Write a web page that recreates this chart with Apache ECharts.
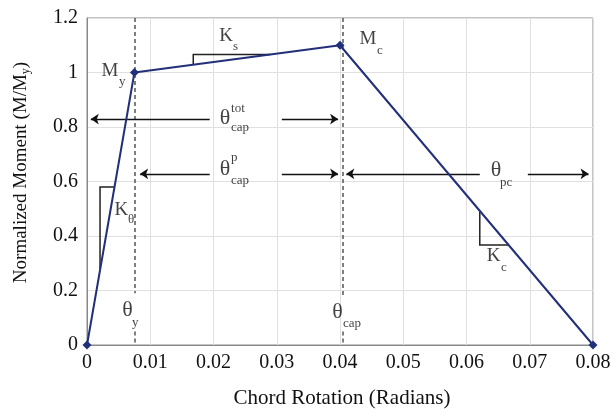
<!DOCTYPE html>
<html><head><meta charset="utf-8">
<script src="https://cdn.jsdelivr.net/npm/echarts@6/dist/echarts.min.js"></script>
<style>html,body{margin:0;padding:0;background:#fff}#c{width:615px;height:409px}</style>
</head><body><div id="c"></div>
<script>
// Backbone curve (chord rotation, normalized moment)
var curveX = [0, 0.0075, 0.04, 0.08];
var curveY = [0, 1.0, 1.1, 0];
// Axis ticks
var xTicks = [0, 0.01, 0.02, 0.03, 0.04, 0.05, 0.06, 0.07, 0.08];
var yTicks = [0, 0.2, 0.4, 0.6, 0.8, 1.0, 1.2];
// Dashed reference lines (x, segments in y)
var dashedLines = [
  [[0.0075, 1.2], [0.0075, 0.19]], [[0.0075, 0.05], [0.0075, 0]],
  [[0.0405, 1.2], [0.0405, 0.18]], [[0.0405, 0.05], [0.0405, 0]]
];
// Dimension arrows [from, to] (arrowhead at "to")
var arrows = [
  [[0.0194, 0.829], [0.0006, 0.829]], [[0.0308, 0.829], [0.0397, 0.829]],
  [[0.0194, 0.628], [0.0084, 0.628]], [[0.0308, 0.628], [0.0397, 0.628]],
  [[0.0621, 0.628], [0.0410, 0.628]], [[0.0697, 0.628], [0.0793, 0.628]]
];
// Slope triangles
var slopeMarks = [
  [[0.0043, 0.58], [0.00206, 0.58], [0.00206, 0.28]],
  [[0.0168, 1.029], [0.0168, 1.066], [0.029, 1.066]],
  [[0.0621, 0.488], [0.0621, 0.367], [0.0667, 0.367]]
];
// Annotation glyphs [text, x, y] (centred) and small sub/superscripts [text, x, y] (left aligned)
var mainText = [
  ['M', 0.00364, 1.0055], ['M', 0.04443, 1.1229], ['K', 0.02198, 1.1321],
  ['K', 0.00545, 0.4954], ['K', 0.06427, 0.3248],
  ['θ', 0.0064, 0.1266], ['θ', 0.0396, 0.1193], ['θ', 0.06466, 0.6422],
  ['θ', 0.02182, 0.8312], ['θ', 0.02182, 0.6440]
];
var smallText = [
  ['y', 0.00506, 0.9651], ['c', 0.04585, 1.0789], ['s', 0.02308, 1.0936],
  ['θ', 0.00648, 0.4587], ['c', 0.06545, 0.2826], ['y', 0.00711, 0.0807],
  ['cap', 0.04047, 0.0771], ['pc', 0.0653, 0.5945],
  ['tot', 0.02277, 0.8661], ['cap', 0.02277, 0.7963],
  ['p', 0.02277, 0.6862], ['cap', 0.02277, 0.6018]
];

var serif = 'Liberation Serif';
var chart = echarts.init(document.getElementById('c'));
chart.setOption({
  backgroundColor: '#fff',
  animation: false,
  grid: {left: 87, right: 22, top: 18, bottom: 64, show: true, borderColor: '#888', borderWidth: 1,
    containLabel: false, outerBoundsMode: 'none'},
  xAxis: {
    type: 'value', min: xTicks[0], max: xTicks[xTicks.length - 1], interval: 0.01,
    name: 'Chord Rotation (Radians)', nameLocation: 'middle', nameGap: 43,
    nameTextStyle: {fontFamily: serif, fontSize: 21, color: '#111', padding: [0, 0, 0, 4]},
    axisLine: {show: true, lineStyle: {color: '#888'}}, axisTick: {show: false},
    axisLabel: {fontFamily: serif, fontSize: 20, color: '#111', margin: 8},
    splitLine: {show: true, lineStyle: {color: '#e0e0e0'}}
  },
  yAxis: {
    type: 'value', min: yTicks[0], max: yTicks[yTicks.length - 1], interval: 0.2,
    name: 'Normalized Moment (M/M{s|y})', nameLocation: 'middle', nameGap: 55,
    nameTextStyle: {fontFamily: serif, fontSize: 19, color: '#111', padding: [0, 0, 0, 18],
      rich: {s: {fontFamily: serif, fontSize: 12, color: '#111', padding: [10, 0, 0, 0]}}},
    axisLine: {show: true, lineStyle: {color: '#888'}}, axisTick: {show: false},
    axisLabel: {fontFamily: serif, fontSize: 20, color: '#111', margin: 9},
    splitLine: {show: true, lineStyle: {color: '#e0e0e0'}}
  },
  series: [
    {
      type: 'lines', coordinateSystem: 'cartesian2d', silent: true, z: 2,
      lineStyle: {color: '#555', width: 1.5, type: [4, 3], opacity: 1},
      data: dashedLines.map(function (c) { return {coords: c}; })
    },
    {
      type: 'lines', coordinateSystem: 'cartesian2d', silent: true, z: 3,
      symbol: ['none', 'arrow'], symbolSize: 8,
      lineStyle: {color: '#111', width: 1.3, opacity: 1},
      data: arrows.map(function (c) { return {coords: c}; })
    },
    {
      type: 'lines', coordinateSystem: 'cartesian2d', polyline: true, silent: true, z: 3,
      lineStyle: {color: '#222', width: 1.5, opacity: 1},
      data: slopeMarks.map(function (c) { return {coords: c}; })
    },
    {
      type: 'line', z: 5,
      data: curveX.map(function (x, i) { return [x, curveY[i]]; }),
      symbol: 'diamond', symbolSize: 9, showSymbol: true,
      lineStyle: {color: '#22307a', width: 2},
      itemStyle: {color: '#22307a'}
    },
    {
      type: 'scatter', z: 6, symbolSize: 0, silent: true,
      data: mainText.map(function (d) {
        return {value: [d[1], d[2]], name: d[0], label: d[0] === 'θ' ? {fontSize: 22} : {}};
      }),
      label: {show: true, position: 'inside', formatter: '{b}', fontFamily: serif,
        fontSize: 19, color: '#111'}
    },
    {
      type: 'scatter', z: 6, symbolSize: 0, silent: true,
      data: smallText.map(function (d) { return {value: [d[1], d[2]], name: d[0]}; }),
      label: {show: true, position: [0, 0], align: 'left', verticalAlign: 'middle',
        formatter: '{b}', fontFamily: serif, fontSize: 13, color: '#111'}
    }
  ]
});
</script></body></html>
